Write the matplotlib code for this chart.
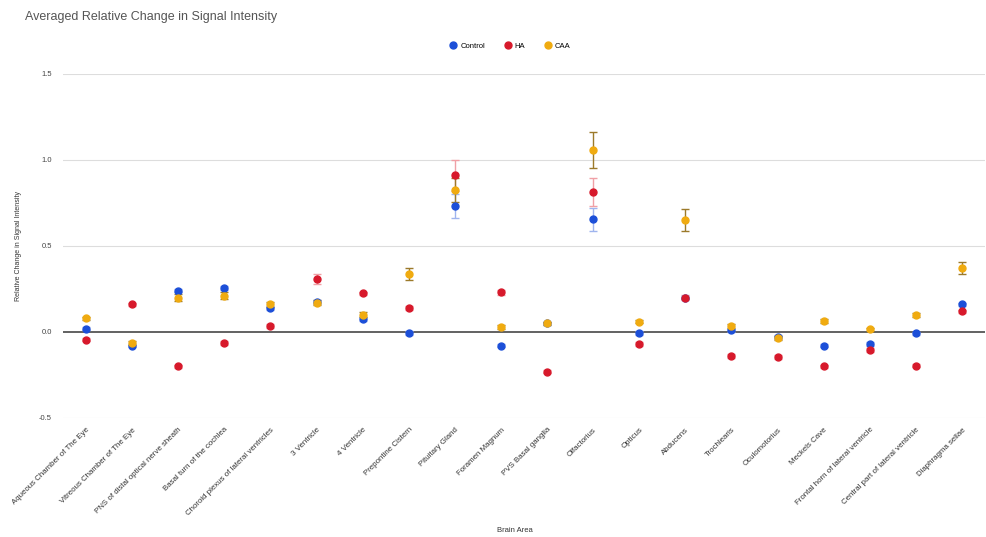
import matplotlib
matplotlib.use("Agg")
import matplotlib.pyplot as plt
from matplotlib.lines import Line2D
import numpy as np

plt.rcParams['font.family'] = ['Liberation Sans', 'DejaVu Sans']

categories = [
    "Aqueous Chamber of The Eye", "Vitreous Chamber of The Eye",
    "PNS of distal optical nerve sheath", "Basal turn of the cochlea",
    "Choroid plexus of lateral ventricles", "3 Ventricle", "4 Ventricle",
    "Prepontine Cistern", "Pituitary Gland", "Foramen Magnum",
    "PVS Basal ganglia", "Olfactorius", "Opticus", "Abducens", "Trochlearis",
    "Oculomotorius", "Meckels Cave", "Frontal horn of lateral ventricle",
    "Central part of lateral ventricle", "Diaphragma sellae",
]

control = [0.02, -0.08, 0.24, 0.255, 0.14, 0.175, 0.075, -0.005, 0.73, -0.08,
           0.05, 0.655, -0.005, 0.20, 0.01, -0.03, -0.08, -0.07, -0.008, 0.16]
control_err = [0.01, 0.01, 0.01, 0.01, 0.01, 0.01, 0.01, 0.01, 0.07, 0.01,
               0.01, 0.065, 0.01, 0.01, 0.01, 0.01, 0.01, 0.01, 0.01, 0.01]

ha = [-0.045, 0.16, -0.20, -0.065, 0.035, 0.31, 0.225, 0.14, 0.91, 0.23,
      -0.23, 0.815, -0.07, 0.20, -0.14, -0.145, -0.20, -0.105, -0.195, 0.12]
ha_err = [0.01, 0.01, 0.01, 0.01, 0.01, 0.03, 0.01, 0.01, 0.09, 0.015,
          0.01, 0.08, 0.01, 0.015, 0.01, 0.01, 0.01, 0.01, 0.01, 0.01]

caa = [0.08, -0.065, 0.20, 0.21, 0.16, 0.17, 0.10, 0.34, 0.825, 0.03,
       0.05, 1.06, 0.06, 0.65, 0.035, -0.035, 0.065, 0.015, 0.10, 0.37]
caa_err = [0.01, 0.01, 0.02, 0.02, 0.015, 0.015, 0.015, 0.035, 0.07, 0.01,
           0.01, 0.105, 0.01, 0.065, 0.01, 0.01, 0.01, 0.01, 0.01, 0.035]

yticks = [-0.5, 0.0, 0.5, 1.0, 1.5]

fig = plt.figure(figsize=(9.87, 5.37), dpi=100)
ax = fig.add_axes([63/987, 1-418/537, (985-63)/987, 344/537])

x = np.arange(len(categories))
series = [
    ("Control", control, control_err, '#1c4fd8', '#9fb4ee'),
    ("HA", ha, ha_err, '#d7192b', '#f0a0a6'),
    ("CAA", caa, caa_err, '#f0ab10', '#9c7a2a'),
]
handles = []
for name, vals, errs, c, ec in series:
    ax.errorbar(x, vals, yerr=errs, fmt='o', color=c, ecolor=ec, elinewidth=1.0,
                capsize=3, capthick=1.0, markersize=5, zorder=3)
    handles.append(Line2D([], [], marker='o', linestyle='none', color=c,
                          markersize=5, label=name))

ax.set_xlim(-0.5, len(categories) - 0.5)
ax.set_ylim(-0.5, 1.5)
ax.set_yticks(yticks)
ax.set_yticklabels([f"{v:.1f}" for v in yticks], fontsize=5.5, color='#444')
for y in yticks:
    if y == 0:
        ax.axhline(y, color='#555555', lw=1.3, zorder=1)
    else:
        ax.axhline(y, color='#dddddd', lw=0.8, zorder=0)
for s in ax.spines.values():
    s.set_visible(False)
ax.tick_params(axis='both', length=0)
ax.tick_params(axis='y', pad=8)

ax.set_xticks(x)
ax.set_xticklabels(categories, rotation=45, ha='right', rotation_mode='anchor',
                   fontsize=5.7, color='#333')
ax.tick_params(axis='x', pad=6)

ax.set_ylabel("Relative Change in Signal Intensity", fontsize=5, color='#333', labelpad=12)
fig.text(515/987, 1-530/537, "Brain Area", fontsize=5.5, color='#333', ha='center', va='center')

fig.text(25/987, 1-17/537, "Averaged Relative Change in Signal Intensity",
         fontsize=9, color='#555555', ha='left', va='center')

ax.legend(handles=handles, loc='center', bbox_to_anchor=(509/987, 1-46/537),
          bbox_transform=fig.transFigure, ncol=3, frameon=False, fontsize=5.5,
          handletextpad=0.1, columnspacing=2.2, handlelength=1.6)

fig.savefig("out.png", dpi=100)
